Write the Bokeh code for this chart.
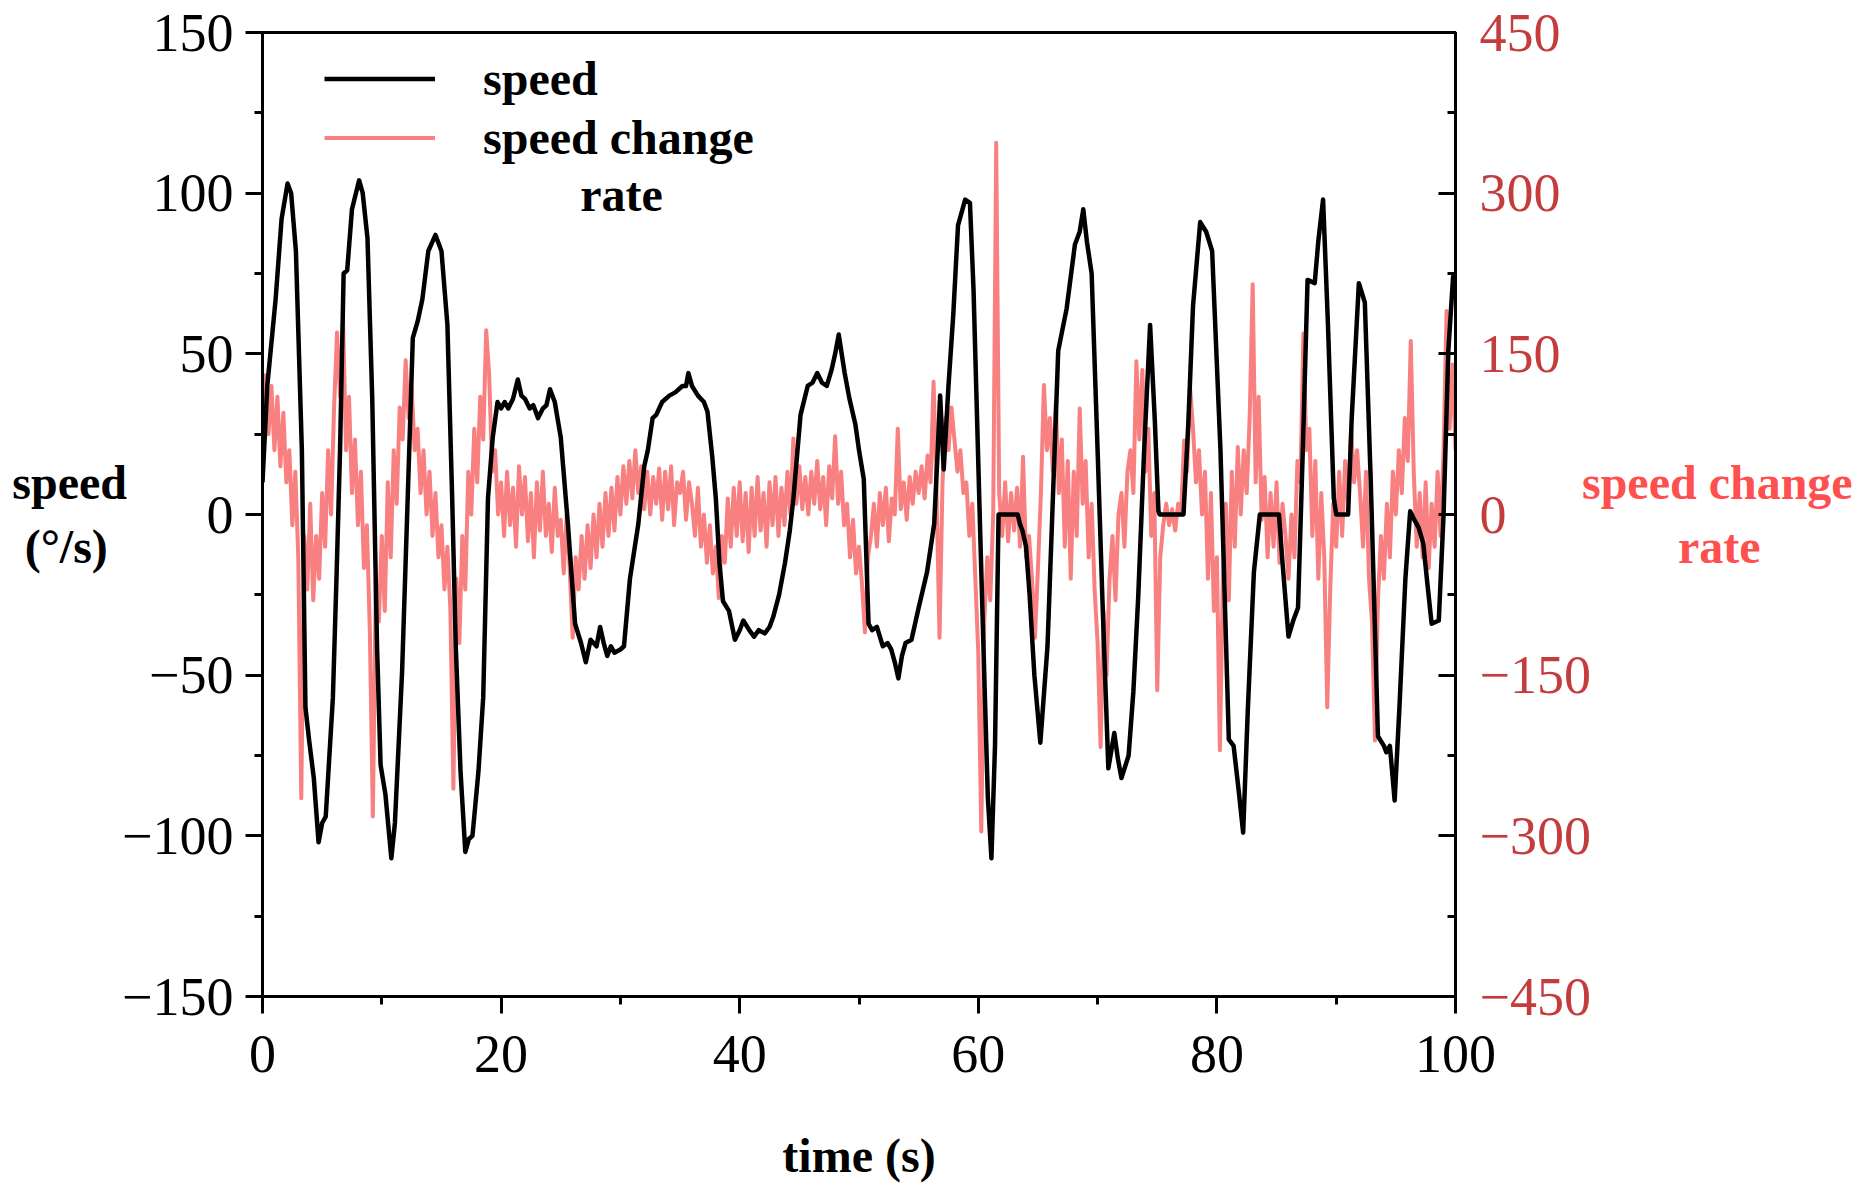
from bokeh.plotting import figure
from bokeh.models import (Range1d, LinearAxis, FixedTicker, CustomJSTickFormatter,
                          Legend, LegendItem, Label)
from bokeh.embed import file_html
from bokeh.resources import INLINE

# ---------------- data ----------------
x_ticks = [0, 20, 40, 60, 80, 100]
x_minor = [10, 30, 50, 70, 90]
speed_ticks = [-150, -100, -50, 0, 50, 100, 150]
speed_minor = [-125, -75, -25, 25, 75, 125]
rate_ticks = [-450, -300, -150, 0, 150, 300, 450]
rate_minor = [-375, -225, -75, 75, 225, 375]

speed_t = [0.0, 0.4, 1.1, 1.6, 2.1, 2.4, 2.8, 3.3, 3.6, 3.9, 4.3, 4.7, 5.0, 5.3, 5.9, 6.2, 6.5, 6.8, 7.1,
           7.5, 8.1, 8.4, 8.8, 9.2, 9.6, 9.9, 10.3, 10.8, 11.1, 11.7, 12.3, 12.6, 13.0, 13.4, 13.9, 14.5,
           15.0, 15.5, 15.9, 16.2, 16.6, 17.0, 17.3, 17.6, 18.1, 18.5, 18.9, 19.3, 19.7, 20.0, 20.3, 20.6,
           21.0, 21.4, 21.7, 22.0, 22.4, 22.7, 23.1, 23.5, 23.8, 24.1, 24.5, 25.0, 25.6, 26.2, 26.7, 27.1,
           27.5, 28.0, 28.3, 28.6, 28.9, 29.2, 29.5, 30.0, 30.3, 30.8, 31.5, 32.0, 32.3, 32.7, 33.0, 33.5,
           34.1, 34.6, 35.2, 35.5, 35.7, 36.0, 36.5, 37.0, 37.3, 37.7, 38.0, 38.3, 38.6, 39.1, 39.6, 40.0,
           40.3, 40.8, 41.2, 41.6, 42.1, 42.5, 42.8, 43.3, 43.8, 44.2, 44.5, 44.8, 45.1, 45.7, 46.1, 46.5,
           46.9, 47.3, 47.7, 48.0, 48.3, 48.8, 49.2, 49.7, 50.0, 50.4, 50.8, 51.1, 51.5, 52.0, 52.4, 52.7,
           53.0, 53.3, 53.6, 53.9, 54.4, 55.0, 55.7, 56.3, 56.6, 56.8, 57.1, 57.5, 57.9, 58.3, 58.9, 59.3,
           59.6, 60.2, 60.5, 60.8, 61.1, 61.4, 61.7, 63.3, 63.5, 63.7, 64.0, 64.3, 64.7, 65.2, 65.8, 66.3,
           66.7, 67.4, 68.1, 68.5, 68.8, 69.1, 69.5, 70.0, 70.4, 70.9, 71.4, 71.7, 72.0, 72.6, 73.0, 73.4,
           73.9, 74.4, 74.8, 75.1, 75.2, 77.2, 77.6, 78.0, 78.6, 79.1, 79.6, 80.3, 81.0, 81.4, 81.8, 82.2,
           82.6, 83.1, 83.6, 85.2, 85.5, 86.0, 86.4, 86.8, 87.2, 87.6, 88.2, 88.5, 88.9, 89.3, 89.8, 90.0,
           91.0, 91.3, 91.9, 92.4, 92.9, 93.5, 94.0, 94.2, 94.5, 94.9, 95.3, 95.8, 96.2, 96.6, 96.9, 97.3,
           97.6, 98.0, 98.6, 99.0, 99.4, 99.8, 100.0]
speed_v = [10, 40, 67, 92, 103, 100, 82, 20, -60, -70, -82, -102, -96, -94, -57, -20, 20, 75, 76,
           95, 104, 100, 86, 36, -41, -78, -87, -107, -96, -49, 20, 55, 60, 67, 82, 87,
           82, 59, 5, -41, -80, -105, -101, -100, -80, -57, 5, 24, 35, 33, 35, 33,
           36, 42, 37, 36, 33, 34, 30, 33, 34, 39, 35, 24, -3, -34, -40, -46,
           -39, -41, -35, -40, -44, -41, -43, -42, -41, -20, -3, 15, 20, 30, 31, 35,
           37, 38, 40, 40, 44, 40, 37, 35, 32, 18, 5, -15, -27, -30, -39, -36,
           -33, -36, -38, -36, -37, -35, -32, -25, -15, -5, 5, 18, 31, 40, 41, 44,
           41, 40, 45, 50, 56, 44, 36, 28, 20, 11, -34, -36, -35, -41, -40, -42,
           -46, -51, -44, -40, -39, -29, -18, -3, 20, 37, 14, 40, 62, 90, 98, 97,
           70, -11, -50, -88, -107, -72, 0, 0, -3, -5, -10, -25, -50, -71, -41, 10,
           51, 64, 84, 88, 95, 85, 75, 20, -26, -79, -68, -76, -82, -75, -55, -26,
           20, 59, 29, 1, 0, 0, 28, 65, 91, 88, 82, 20, -70, -72, -85, -99,
           -60, -18, 0, 0, -15, -38, -33, -29, 20, 73, 72, 85, 98, 60, 5, 0,
           0, 30, 72, 66, 10, -69, -72, -74, -72, -89, -60, -20, 1, -2, -4, -9,
           -20, -34, -33, 0, 51, 74, 75]

rate_v = [
    100, 130, 75, 120,    60, 110, 45, 95,      30, 60, -10, 40,      -40, -265, -20, -70,
    10, -80, -20, -60,    20, -30, 60, 0,       100, 170, 110, 183,   60, 110, 20, 70,
    -10, 40, -50, -10,    -110, -282, -60, -100, -20, -90, 30, -40,   60, 10, 100, 70,
    144, 90, 120, 60,     80, 20, 60, 0,        40, -20, 20, -40,     -10, -70, -30, -90,
    -256, -60, -120, -20, -70, 40, 0, 80,       30, 110, 70, 172,     130, 40, 60, 0,
    30, -20, 40, -10,     25, -30, 45, 0,       35, -25, 20, -40,     30, -15, 40, -20,
    10, -35, 25, -20,     -5, -55, 0, -50,      -115, -40, -70, -20,  -60, -10, -50, 0,
    -40, 10, -30, 20,     -20, 25, -15, 35,     0, 45, 10, 50,        15, 60, 20, 45,
    5, 40, 0, 35,         10, 43, -5, 40,       5, 45, -10, 30,       20, 40, -5, 30,
    10, -20, 25, -30,     0, -45, -10, -55,     -30, -78, -20, -45,   15, -30, 25, -20,
    30, -25, 20, -35,     25, -20, 35, -15,     20, -30, 30, -10,     35, -20, 25, -10,
    40, 0, 71, 10,        45, 5, 35, 0,         40, 10, 50, 5,        35, -10, 45, 15,
    73, 10, 40, -10,      10, -40, -5, -55,     -30, -65, -110, -40,  -20, 10, -30, 20,
    -10, 25, -25, 15,     0, 80, 5, 30,         -5, 35, 10, 40,       20, 45, 15, 55,
    30, 124, 20, -115,    30, 90, 60, 100,      70, 40, 60, 20,       30, -20, 10, -60,
    -130, -296, -100, -40, -80, 0, 347, 20,     -20, 30, -25, 20,     -15, 25, -30, 54,
    -40, -20, -60, -115,  -50, 20, 121, 60,     90, 40, 105, 20,      70, -30, 50, -60,
    40, -20, 99, 10,      50, -40, 10, -70,     -120, -217, -90, -150, -60, -20, -80, 0,
    20, -30, 40, 60,      20, 143, 70, 135,     40, 80, -20, 20,      -164, -40, -10, 10,
    -10, 5, -15, 10,      0, 69, 40, 119,       80, 30, 60, 0,        40, -60, 20, -90,
    -40, -220, -60, 10,   -80, 40, -30, 63,     0, 60, 20, 92,        215, 30, 110, -5,
    35, -40, 20, -30,     30, -45, 10, -20,     -60, 0, -40, 50,      30, 169, 60, 80,
    -20, 50, -60, 20,     -40, -180, -70, 10,   -30, 40, -20, 50,     10, 80, 30, 60,
    20, -30, 40, -60,     -100, -211, -80, -20, -60, 10, -40, 40,     0, 60, 20, 90,
    50, 162, 40, -30,     20, -40, 30, -50,     10, -30, 40, -20,     60, 190, 80, 140,
    60]
rate_t = [i * 0.25 for i in range(len(rate_v))]

# ---------------- styles ----------------
SERIF = "Liberation Serif"
RED_LINE = "#f88080"
RED_TICK = "#c43c3c"
RED_LABEL = "#ff5050"

minus_fmt = "return tick < 0 ? '\u2212' + Math.abs(tick) : String(tick);"

p = figure(frame_width=1193, frame_height=964,
           x_range=Range1d(0, 100), y_range=Range1d(-150, 150),
           output_backend="svg", toolbar_location=None,
           min_border_left=262, min_border_right=395, min_border_top=32, min_border_bottom=180,
           background_fill_color="white", border_fill_color="white")
p.extra_y_ranges = {"rate": Range1d(-450, 450)}
p.xgrid.visible = False
p.ygrid.visible = False
p.outline_line_color = "black"
p.outline_line_width = 3

r_rate = p.line(rate_t, rate_v, y_range_name="rate", line_color=RED_LINE, line_width=4,
                line_join="round")
r_speed = p.line(speed_t, speed_v, line_color="black", line_width=4.5, line_join="round")


def style_axis(ax, inside=False, color="black"):
    ax.axis_line_width = 3
    ax.major_tick_line_width = 3
    ax.minor_tick_line_width = 3
    if inside:
        ax.major_tick_in, ax.major_tick_out = 17, 0
        ax.minor_tick_in, ax.minor_tick_out = 8, 0
    else:
        ax.major_tick_in, ax.major_tick_out = 0, 17
        ax.minor_tick_in, ax.minor_tick_out = 0, 8
    ax.major_label_text_font = SERIF
    ax.major_label_text_font_size = "54px"
    ax.major_label_text_color = color
    ax.axis_label_text_font = SERIF
    ax.axis_label_text_font_style = "bold"
    ax.axis_label_text_font_size = "48px"
    ax.axis_label_text_color = "black"
    ax.formatter = CustomJSTickFormatter(code=minus_fmt)


xa = p.xaxis[0]
xa.ticker = FixedTicker(ticks=x_ticks, minor_ticks=x_minor)
style_axis(xa)
xa.major_label_standoff = 22
xa.axis_label = "time (s)"
xa.axis_label_standoff = 54

ya = p.yaxis[0]
ya.ticker = FixedTicker(ticks=speed_ticks, minor_ticks=speed_minor)
style_axis(ya)
ya.major_label_standoff = 12
ya.axis_label = "speed\n(°/s)\u2009\u2009"
ya.axis_label_orientation = "horizontal"
ya.axis_label_standoff = -8

ra = LinearAxis(y_range_name="rate", ticker=FixedTicker(ticks=rate_ticks, minor_ticks=rate_minor))
style_axis(ra, inside=True, color=RED_TICK)
ra.major_label_standoff = 24
ra.axis_label = "speed change\n" + "\u00a0" * 8 + "rate"
ra.axis_label_orientation = "horizontal"
ra.axis_label_text_color = RED_LABEL
ra.axis_label_standoff = -12
p.add_layout(ra, "right")

legend = Legend(items=[LegendItem(label="speed", renderers=[r_speed]),
                       LegendItem(label="speed change", renderers=[r_rate])],
                location=(62, 829), padding=0, margin=0, spacing=0,
                glyph_width=111, glyph_height=59, label_height=59, label_standoff=48,
                border_line_alpha=0, background_fill_alpha=0,
                label_text_font=SERIF, label_text_font_style="bold",
                label_text_font_size="48px", label_text_color="black")
p.add_layout(legend)
p.add_layout(Label(x=30.1, y=99.5, text="rate", text_align="center", text_baseline="middle",
                   text_font=SERIF, text_font_style="bold", text_font_size="48px",
                   text_color="black"))

open("out.html", "w").write(file_html(p, INLINE))
